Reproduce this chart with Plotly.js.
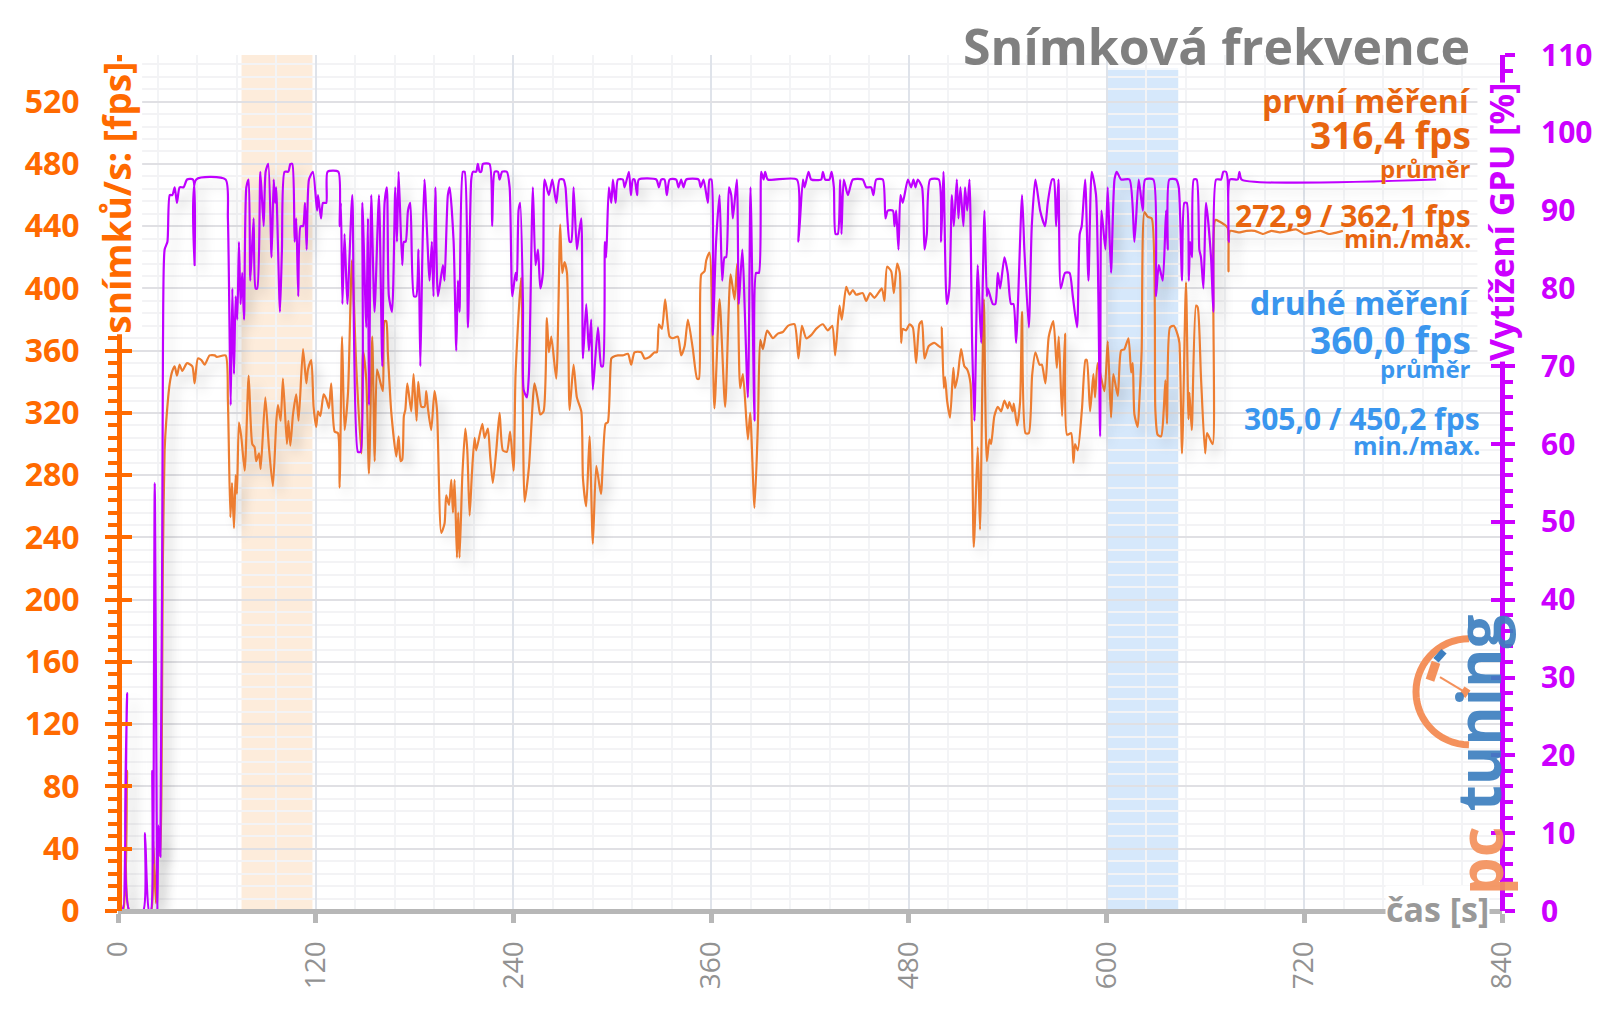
<!DOCTYPE html>
<html>
<head>
<meta charset="utf-8">
<script src="https://cdn.plot.ly/plotly-3.0.1.min.js"></script>
<style>
body { margin: 0; background: #fff; }
#graf { width: 1600px; height: 1009px; }
.scatterlayer { filter: drop-shadow(7px 8px 6px rgba(0,0,0,.16)); }
</style>
</head>
<body>
<div id="graf"></div>
<script>
// fps - first run
const fpsTime = [0,3,5.5,7,16,20,21.4,23,24.5,25.7,27.3,28.3,29.3,31.4,33,34.4,35.8,37.4,39,41.9,45.1,46.5,48.5,50.6,52.6,55.6,58.7,60,65.3,66.7,68.2,69.2,70.4,71.4,72.2,73.4,74.8,76.9,79.3,81.5,82.9,83.9,85.6,86.6,89.4,91.6,94,96.1,97.1,98.7,100.1,102.5,103.4,104.6,106.2,108.2,109.6,112.3,114.3,115.3,117.3,118.7,120.3,121.4,122.8,124.8,126.4,128,129.4,131.5,133.5,134.5,136,137.5,139.6,142,144.6,147.7,148.7,150.7,152.3,154.3,155.8,157.2,159.4,160.8,161.8,162.8,163.8,165.9,168.9,170.3,171.5,172.5,173.5,174.4,175.6,178,179.4,181.2,182.2,184.1,186.1,187.1,188.1,190.1,192.1,193.6,196.2,198.2,199.2,200.9,202.3,203.3,204.3,205.7,206.5,207.3,209,210.8,212,213.4,214.8,216.4,217.4,221.1,222.5,224.5,225.9,227.5,229.6,231.6,233.6,236,238,240.1,241.3,244.7,246.8,249.4,252.8,254.9,256.3,258.3,260.3,261.5,263,266,268.4,269.6,271,272.5,274.1,276.5,278.5,281.2,282.2,284.2,286.2,288.2,290.3,293.1,295.9,297.3,299.4,300.4,303.4,306.4,309.5,311.5,313.5,317.6,319.6,322.6,325.7,327.1,328.3,330.1,332.1,334.8,336.8,339.8,341.8,343.9,345.9,348.9,351.5,352.6,354,356,357,359,362,365.1,368.5,371.8,374.2,375.8,377.6,379.3,382.3,383.7,386.3,388.4,389.8,391.4,394,397.5,400.5,403.5,406.6,410.6,413,415.1,417.7,420.7,423.7,427.8,430.8,433.5,435.3,437.9,439.3,442,444,446,448,452,454.1,456.5,459.1,463.6,465.2,466.8,469.3,470.9,472.9,474.5,475.3,476.3,478.3,480.4,482.4,484.4,486.4,487.9,489.5,492.1,495.5,499.6,500,501.2,502,503.2,505,507,508,509.7,511.7,513.7,515.4,517.4,519.4,521.8,523.2,525.5,527.3,528.9,529.9,531.9,534,536,538,540,541,543,543.7,545.7,547.5,548.7,550.8,552.8,554.8,556.8,559.3,560.7,562.9,564.9,567.7,569.8,571,573,574.8,576,578.5,579.9,580.9,582.5,585.1,587.2,588,590,592,593,594.6,598.7,600.7,602.7,604.1,606.8,608.8,610.8,613.3,614.9,615.9,616.9,618.9,619.9,621.3,623,625,627.4,629.6,631,633.1,634.7,635.7,636.7,638.5,640.8,643.2,644.2,645.8,648.2,649.7,650.3,651.7,654.3,655.3,657.3,659.8,661,664.4,666,668.5,671.5,673.5,674,675,680,685,690,695,700,705,710,715,720,725,730,735,740,743.4];
const fpsValues = [0,0,90,0,0,0,45,5,50,35,230,296,315,339,347,350,344,351,347,352,350,339,355,354,351,357,357,356,357,328,253,275,246,280,268,314,305,283,344,300,298,289,294,284,330,298,273,315,325,315,342,300,315,299,319,332,315,361,339,348,354,324,311,321,318,332,329,323,339,308,307,272,369,309,333,418,350,294,360,341,281,369,289,348,339,334,379,379,358,320,292,305,289,290,318,322,339,321,345,315,340,324,324,334,323,309,334,322,243,249,267,261,277,256,277,227,256,227,280,310,296,254,281,304,296,313,304,310,292,275,296,320,296,295,308,283,345,407,263,285,339,328,319,321,381,359,369,342,441,410,417,410,322,351,330,321,278,260,305,236,286,268,313,314,355,356,357,357,358,351,359,359,355,356,359,359,377,374,393,369,368,369,357,363,380,361,342,342,409,411,418,423,323,393,324,409,393,416,336,345,303,320,259,313,367,361,373,368,371,372,376,377,355,376,368,370,374,377,373,376,357,389,380,401,396,399,396,397,392,397,394,400,392,414,411,397,416,410,365,374,373,377,375,352,377,379,355,363,365,362,375,336,343,328,317,349,336,344,361,350,348,339,234,298,245,393,289,303,300,318,324,321,328,323,327,321,326,312,327,385,307,307,344,359,351,351,339,369,379,349,369,318,371,306,307,288,300,296,323,354,354,321,345,330,352,334,366,317,345,331,360,361,368,346,352,319,311,328,360,449,446,445,322,306,305,322,341,313,375,376,370,365,294,404,316,333,309,389,388,343,294,307,300,444,443,441,439,411,437,436,437,437,435,437,436,437,438,435,436,437,435,436,437];

// gpu load - first run
const gpuTime = [0,1,3,5.5,7,15.2,16.4,18.8,20,20.8,21.4,22.3,23.9,24.5,25.7,27.3,28.3,30,31.4,33,34.4,35.8,37.4,39.8,41.9,45.5,46.5,47.5,65.3,66.7,67.8,68.4,69.4,70.4,71.4,72.4,73.4,74.4,75.4,76.5,77.9,79.3,80.3,82.3,83.5,84.5,86.4,88.4,89.6,91.2,93.2,94.5,95.3,96,98.3,99.5,101.1,103.4,104.6,105.8,107.2,108.2,109.4,110.8,112.3,113.5,114.5,115.9,118.3,120.8,121.4,123.2,124.4,126.4,127.2,133.7,134.5,135.3,136.2,137.5,139.2,142.2,145.6,147.2,148.3,150.7,151.7,152.3,153.7,155.7,158.4,160.4,161.8,163.2,164.4,166.3,168.3,169.3,170.3,172.5,173.5,174.6,176,177.4,179.6,181,182.4,183.5,184.7,186,189.1,190.5,191.5,192.6,194.2,197.2,198.2,200.2,201.3,203.7,205.3,206.3,207.3,209.3,210.4,212.4,214.4,215.4,217.4,218.4,219.5,220.5,221.5,225.5,227.1,228.6,230.6,231.6,233.2,236,237.7,239.3,241.3,242.1,243.1,244.1,245.8,246.2,248.2,249.4,251.8,253.4,254.9,256.3,257.9,258.9,261.5,263.6,266,268,270.4,271.6,274.1,275.1,276.5,278.5,279.7,281.2,282.2,284.2,285.8,287.2,288.2,291.3,293.3,294.3,295.5,296.3,297.9,299.4,300.4,302,303.4,306.4,307.5,310.1,311.3,312.5,313.5,315.1,316.1,326.7,328.3,329.7,331.7,333.1,334.8,338.8,340.2,341.8,343.2,344.9,352.4,353.6,355.4,358,359,360.2,361,363,365.1,366.7,368.1,369.1,370.8,372.2,373.2,375.6,376.8,378.9,382.3,383.9,386.3,387.3,389,390.4,391.8,392.8,394.4,412,413,415.7,416.7,419.1,420.7,426.8,427.8,429.2,431.8,433.1,434.5,435.5,436.9,438.3,439.1,440.5,443,446,452,454.1,457.1,458.5,460.2,464.2,465.8,467.2,470.3,471.3,472.3,473.7,474.9,476.3,479.4,481.4,482.8,484,485.4,488,489.5,490.9,492.9,498.2,499.6,501,503,504.6,506.1,507.3,509.1,510.1,511.3,513.1,514.1,515.4,516.8,518.4,519.8,521.8,523.9,525.9,527.3,527.9,531,532.5,534,535.4,538,540,542,543.5,545.1,548.7,550.1,552.8,554.6,556.8,559.7,562.7,564.3,566.9,568,569.4,570.8,572.2,574.8,577.5,579.5,582.1,583.7,584.9,587,589,591,593.6,596.1,596.9,599.3,600.7,602.7,604.8,606.2,608.8,613.9,616.9,619.5,622,623.4,628.4,630,631.7,634.1,636.1,637.1,638.1,642.2,643.8,645.8,647.2,648.7,649.9,650.7,651.9,652.9,654.7,656.3,657.3,658.8,660.4,663.4,664.8,666.5,669.5,670.9,672.5,673.5,674.1,674.9,679.6,680.6,682,800];
const gpuValues = [0,1.4,0,28,0,0,10,0,0,18,6,55,0,11,7,73,85,86,92,92,93,91,93,93,94,94,83,94,94,89,73,65,80,69,79,76,86,78,82,76,93,94,81,89,80,80,95,88,95,96,84,94,91,93,77,85,95,95,96,96,86,89,79,88,88,91,85,94,95,90,92,89,91,91,95,95,88,91,78,87,78,92,59,59,91,75,89,65,92,77,92,70,91,93,79,77,93,86,95,83,86,86,90,91,79,79,85,70,84,94,81,86,79,93,79,83,81,92,93,86,72,81,77,95,95,75,94,95,95,96,95,95,96,96,88,95,95,94,95,95,93,79,82,81,90,91,78,67,66,69,93,83,85,80,82,94,92,94,91,94,94,93,86,86,93,85,87,89,71,78,72,76,67,75,70,70,86,84,93,91,94,91,94,94,93,95,92,94,94,92,94,94,93,94,94,92,94,94,93,94,93,94,94,93,94,91,94,94,74,86,92,81,84,84,93,92,89,94,78,85,66,93,63,82,82,95,94,95,94,94,86,94,93,95,94,94,95,94,94,95,93,87,87,94,87,94,92,94,94,93,93,92,94,94,89,90,90,88,90,85,92,91,94,93,94,93,94,93,85,87,94,94,86,95,78,80,92,88,94,89,93,88,93,90,94,73,63,83,73,90,79,80,78,78,82,80,84,82,78,78,73,92,85,75,88,94,90,88,91,94,94,88,94,80,82,82,79,75,87,88,94,81,95,92,61,90,85,93,82,94,95,94,94,86,94,90,94,94,79,83,81,90,85,94,94,93,81,91,91,81,86,84,94,94,85,84,80,91,84,77,94,94,95,95,94,86,94,94,95,94,94];

const firstBand = [75, 118];
const secondBand = [600, 643.5];
const xTicks = [0, 120, 240, 360, 480, 600, 720, 840];

const orange = '#ff6a00';
const purple = '#cc00ff';
const blue = '#3a96ee';
const darkOrange = '#e8650f';
const FONT = '"Open Sans", sans-serif';

// plot box in page pixels, the texts are placed by these
const L = 118.3, R = 1502, T = 55, B = 910.7;
const px = x => (x - L) / (R - L);
const py = y => (B - y) / (B - T);

function note(text, x, y, size, color, anchor = 'right', extra = {}) {
    return Object.assign({
        text: text, xref: 'paper', yref: 'paper', x: px(x), y: py(y),
        xanchor: anchor, yanchor: 'middle', showarrow: false,
        font: {family: FONT, size: size, color: color, weight: 700},
        borderpad: 0
    }, extra);
}

function arcPath(cx, cy, r) {
    let d = '';
    for (let a = 90; a <= 270; a += 6) {
        const x = cx + r * Math.cos(a * Math.PI / 180);
        const y = cy - r * Math.sin(a * Math.PI / 180);
        d += (d ? ' L ' : 'M ') + px(x).toFixed(5) + ' ' + py(y).toFixed(5);
    }
    return d;
}

function paperLine(x0, y0, x1, y1, color, width) {
    return {type: 'line', xref: 'paper', yref: 'paper', x0: px(x0), y0: py(y0), x1: px(x1), y1: py(y1),
        line: {color: color, width: width}};
}

let data = [
    {x: fpsTime, y: fpsValues, mode: 'lines', type: 'scatter', name: 'fps', yaxis: 'y',
        line: {color: '#ed7d31', width: 2.2, shape: 'spline', smoothing: 0.6}, hoverinfo: 'skip'},
    {x: gpuTime, y: gpuValues, mode: 'lines', type: 'scatter', name: 'GPU', yaxis: 'y2',
        line: {color: '#bf00ff', width: 2.2, shape: 'spline', smoothing: 0.6}, hoverinfo: 'skip'},
    {x: [null], y: [null], mode: 'lines', type: 'scatter', yaxis: 'y3', hoverinfo: 'skip'},
    {x: [null], y: [null], mode: 'lines', type: 'scatter', yaxis: 'y4', hoverinfo: 'skip'}
];

let layout = {
    width: 1600,
    height: 1009,
    autosize: false,
    showlegend: false,
    paper_bgcolor: '#fff',
    plot_bgcolor: '#fff',
    margin: {l: L, r: 1600 - R, t: T, b: 1009 - B, pad: 0},
    xaxis: {
        range: [0, 840], tickvals: xTicks, tickangle: -90, anchor: 'free', position: 0,
        showline: true, linecolor: '#b7b7b7', linewidth: 5, zeroline: false,
        ticks: 'outside', ticklen: 9, tickwidth: 5, tickcolor: '#b7b7b7', ticklabelstandoff: 7,
        tickfont: {family: FONT, size: 28, color: '#929292'},
        showgrid: true, gridcolor: '#dfe3ea', gridwidth: 2,
        minor: {dtick: 24, showgrid: true, gridcolor: '#f3f4f6', gridwidth: 2, ticks: ''}
    },
    yaxis: {
        range: [0, 550], tick0: 0, dtick: 40, anchor: 'free', position: 0.0007,
        showline: true, linecolor: orange, linewidth: 5, zeroline: false,
        ticks: 'outside', ticklen: 12, tickwidth: 4, tickcolor: orange, ticklabelstandoff: 19,
        tickfont: {family: FONT, size: 32, color: orange, weight: 700},
        showgrid: true, gridcolor: '#e0e0e4', gridwidth: 2,
        minor: {dtick: 8, showgrid: true, gridcolor: '#f3f3f5', gridwidth: 2,
            ticks: 'outside', ticklen: 9, tickwidth: 4, tickcolor: orange}
    },
    yaxis2: {
        range: [0, 110], tick0: 0, dtick: 10, overlaying: 'y', side: 'right', anchor: 'free', position: 1,
        showline: true, linecolor: purple, linewidth: 5, zeroline: false, showgrid: false,
        ticks: 'outside', ticklen: 10, tickwidth: 4, tickcolor: purple, ticklabelstandoff: 20,
        tickfont: {family: FONT, size: 30, color: purple, weight: 700},
        minor: {dtick: 2, showgrid: false, ticks: 'outside', ticklen: 8, tickwidth: 4, tickcolor: purple}
    },
    yaxis3: {
        range: [0, 550], tick0: 0, dtick: 40, overlaying: 'y', anchor: 'free', position: 0.0007,
        showline: false, zeroline: false, showgrid: false, showticklabels: false,
        ticks: 'inside', ticklen: 12, tickwidth: 4, tickcolor: orange
    },
    yaxis4: {
        range: [0, 110], tick0: 0, dtick: 10, overlaying: 'y', side: 'right', anchor: 'free', position: 1,
        showline: false, zeroline: false, showgrid: false, showticklabels: false,
        ticks: 'inside', ticklen: 11, tickwidth: 4, tickcolor: purple
    },
    shapes: [
        {type: 'rect', layer: 'below', xref: 'x', yref: 'paper', x0: firstBand[0], x1: firstBand[1], y0: 0, y1: 1,
            fillcolor: '#fbd9b8', opacity: 0.5, line: {width: 0}},
        {type: 'rect', layer: 'below', xref: 'x', yref: 'paper', x0: secondBand[0], x1: secondBand[1], y0: 0, y1: py(68),
            fillcolor: '#b5d6f7', opacity: 0.55, line: {width: 0}},
        {type: 'rect', layer: 'below', xref: 'paper', yref: 'paper', x0: px(1228), x1: px(1482), y0: py(460), y1: py(70),
            fillcolor: '#fff', opacity: 0.6, line: {width: 0}},
        {type: 'rect', layer: 'below', xref: 'paper', yref: 'paper', x0: px(955), x1: px(1480), y0: py(70), y1: 1,
            fillcolor: '#fff', opacity: 0.75, line: {width: 0}},
        {type: 'path', xref: 'paper', yref: 'paper', path: arcPath(1469, 691.5, 53), line: {color: '#f4915c', width: 7}},
        paperLine(1430, 680, 1436, 662, '#f4915c', 9),
        paperLine(1436, 660, 1444, 651, '#3d7fc0', 7),
        paperLine(1440, 677, 1465, 692, '#f4915c', 2),
        paperLine(1462, 690, 1468, 694, '#f4915c', 9)
    ],
    annotations: [
        note('Snímková frekvence', 1471, 46, 50, '#808080'),
        note('první měření', 1472, 100, 32, darkOrange),
        note('316,4 fps', 1472, 134, 37, darkOrange),
        note('průměr', 1472, 168, 24, darkOrange),
        note('272,9 / 362,1 fps', 1472, 215, 30, darkOrange),
        note('min./max.', 1472, 238, 25, darkOrange),
        note('druhé měření', 1472, 302, 32, blue),
        note('360,0 fps', 1472, 339, 37, blue),
        note('průměr', 1472, 368, 24, blue),
        note('305,0 / 450,2 fps', 1481, 418, 30, blue),
        note('min./max.', 1481, 445, 25, blue),
        note('snímků/s: [fps]', 116, 198, 37, orange, 'center', {textangle: -90, bgcolor: '#fff'}),
        note('Vytížení GPU [%]', 1501, 222, 34, purple, 'center', {textangle: -90, bgcolor: '#fff'}),
        note('čas [s]', 1438, 909, 34, '#999999', 'center', {bgcolor: '#fff'}),
        note('tuning', 1478, 712, 60, '#3d7fc0', 'center', {textangle: -90, opacity: 0.92}),
        note('pc', 1480, 860, 60, '#f4915c', 'center', {textangle: -90, opacity: 0.92})
    ]
};

Plotly.newPlot('graf', data, layout, {displayModeBar: false, responsive: false});
</script>
</body>
</html>
